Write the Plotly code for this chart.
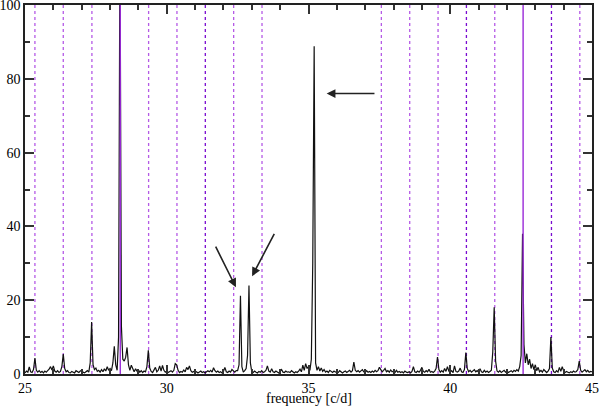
import plotly.graph_objects as go

# amplitude spectrum, sampled every 0.05 c/d from 25.00 to 45.00
freq_start = 25.0
freq_step = 0.05
amp = [
    # 25
    0.3, 0.8, 0.5, 1.9, 0.6, 0.4, 1.2, 4.3, 1.0, 0.5, 0.9, 0.4, 0.7, 0.3, 0.8, 0.5, 0.9, 1.3, 2.0, 1.1,
    # 26
    2.2, 0.8, 0.5, 0.9, 0.4, 0.7, 2.0, 5.4, 1.5, 0.6, 0.9, 0.4, 0.3, 0.7, 0.5, 0.3, 0.9, 0.6, 0.4, 0.8,
    # 27
    1.0, 0.5, 0.3, 0.6, 0.9, 0.5, 3.0, 14.1, 2.5, 1.2, 1.6, 0.7, 1.0, 0.5, 1.2, 0.6, 1.4, 0.8, 2.0, 1.0,
    # 28
    1.5, 0.9, 3.0, 7.5, 2.5, 1.0, 10.0, 120.0, 13.0, 4.0, 3.5, 4.5, 7.2, 2.5, 1.0, 2.4, 1.2, 0.6, 1.4, 0.8,
    # 29
    1.1, 0.5, 0.9, 0.4, 0.8, 0.6, 2.0, 6.4, 1.6, 0.7, 0.4, 1.2, 1.8, 0.6, 1.0, 2.2, 0.8, 2.3, 1.0, 0.5,
    # 30
    0.8, 0.4, 0.6, 0.9, 0.5, 1.0, 2.8, 2.5, 1.0, 0.4, 0.7, 0.5, 1.1, 0.6, 1.8, 1.2, 2.2, 0.9, 0.5, 0.7,
    # 31
    0.4, 0.6, 0.3, 0.5, 0.8, 0.4, 0.6, 0.3, 0.5, 0.9, 0.6, 1.0, 0.5, 1.7, 0.9, 0.5, 0.8, 0.4, 0.6, 0.3,
    # 32
    0.7, 1.8, 0.6, 0.4, 0.8, 0.5, 1.2, 0.8, 0.5, 0.9, 0.9, 2.5, 21.2, 2.0, 0.5, 0.9, 1.5, 5.0, 24.0, 3.0,
    # 33
    0.6, 0.4, 0.8, 0.5, 0.3, 0.7, 0.5, 0.9, 0.4, 0.6, 1.0, 2.2, 0.8, 0.5, 1.4, 0.6, 0.4, 0.8, 0.5, 0.3,
    # 34
    0.7, 1.2, 0.5, 0.4, 0.8, 0.5, 0.6, 0.4, 0.9, 0.5, 0.3, 0.6, 0.4, 0.8, 1.3, 0.6, 2.4, 1.0, 2.8, 1.5,
    # 35
    2.0, 1.0, 4.0, 30.0, 88.8, 3.0, 1.0, 2.0, 0.8, 1.6, 0.7, 1.2, 0.5, 0.8, 0.4, 1.0, 0.6, 0.4, 0.8, 0.5,
    # 36
    0.7, 0.4, 0.9, 0.5, 0.3, 0.6, 0.8, 0.4, 0.7, 1.0, 0.5, 0.9, 3.2, 1.0, 0.6, 0.9, 0.5, 0.8, 1.2, 0.6,
    # 37
    0.4, 0.9, 0.5, 0.7, 0.4, 0.8, 0.5, 1.0, 0.6, 0.9, 1.8, 1.2, 0.6, 1.0, 1.5, 0.6, 0.9, 0.5, 1.1, 0.6,
    # 38
    0.8, 0.4, 1.0, 0.5, 0.7, 0.4, 0.6, 0.3, 0.8, 0.5, 0.4, 0.6, 0.3, 0.7, 2.0, 0.6, 0.4, 0.8, 0.5, 1.0,
    # 39
    1.8, 0.7, 0.5, 0.9, 0.6, 1.3, 0.5, 0.7, 0.4, 0.8, 1.5, 4.6, 1.2, 0.5, 0.9, 0.5, 1.5, 0.7, 2.0, 0.8,
    # 40
    0.5, 0.9, 0.4, 2.2, 0.7, 0.5, 0.8, 1.6, 0.6, 0.4, 1.2, 5.8, 1.5, 0.6, 1.0, 0.5, 0.8, 1.2, 0.6, 0.9,
    # 41
    0.5, 1.4, 0.6, 0.4, 1.0, 0.5, 0.8, 0.4, 0.7, 1.0, 6.0, 18.1, 3.5, 0.8, 0.5, 0.9, 0.4, 0.7, 1.0, 0.5,
    # 42
    0.8, 0.4, 0.6, 0.9, 0.5, 1.0, 0.7, 1.2, 0.8, 2.0, 5.0, 38.0, 8.0, 3.0, 5.5, 2.5, 4.0, 1.5, 2.8, 1.2,
    # 43
    2.5, 0.9, 1.8, 0.6, 1.0, 0.5, 1.2, 0.7, 0.4, 0.8, 1.5, 10.0, 1.6, 0.6, 0.4, 0.9, 0.5, 1.8, 0.7, 2.0,
    # 44
    0.8, 0.4, 0.7, 0.5, 0.3, 0.6, 0.4, 0.8, 0.5, 0.7, 1.2, 3.5, 1.0, 0.5, 0.8, 1.2, 0.6, 1.0, 0.5, 0.7,
    # 45
    0.6,
]
freq = [round(freq_start + i * freq_step, 2) for i in range(len(amp))]

# main frequencies (solid) and their 1 c/d aliases (dotted)
main_freqs = [28.36, 42.57]
alias_light = [25.35, 26.35, 27.36, 29.36, 30.36, 32.36, 33.36,
               37.57, 38.57, 39.57, 41.57, 44.57]
alias_dark = [31.36, 40.57, 43.57]

fig = go.Figure()
fig.add_trace(go.Scatter(x=freq, y=amp, mode="lines",
                         line=dict(color="#111111", width=1.2),
                         showlegend=False))

for f in alias_light:
    fig.add_vline(x=f, line=dict(color="#b55ae6", width=1.3, dash="dot"), layer="below")
for f in alias_dark:
    fig.add_vline(x=f, line=dict(color="#7a0cd0", width=1.3, dash="dot"), layer="below")
for f in main_freqs:
    fig.add_vline(x=f, line=dict(color="#9a2ad8", width=1.4), layer="above")

# arrows pointing at the peaks
arrows = [
    (35.64, 76.0, 37.38, 76.0),
    (32.44, 23.5, 31.70, 34.9),
    (33.01, 26.5, 33.82, 38.4),
]
for x, y, ax, ay in arrows:
    fig.add_annotation(x=x, y=y, ax=ax, ay=ay, xref="x", yref="y",
                       axref="x", ayref="y", text="", showarrow=True,
                       arrowhead=2, arrowsize=1.1, arrowwidth=1.6,
                       arrowcolor="#222222")

# x axis title placed by hand so it sits close to the tick labels
fig.add_annotation(text="frequency [c/d]", xref="paper", yref="paper",
                   x=0.5, y=0, yshift=-24, yanchor="middle", showarrow=False,
                   font=dict(family="Liberation Serif", size=14, color="black"))

axis_common = dict(showline=True, linecolor="#222222", linewidth=1.5,
                   mirror="allticks", ticks="inside", tickcolor="#333333",
                   showgrid=False, zeroline=False, automargin=False,
                   ticklabeloverflow="allow",
                   tickfont=dict(family="Liberation Serif", size=14, color="black"))

fig.update_xaxes(range=[25, 45], tickvals=[25, 30, 35, 40, 45], ticklen=9,
                 tickwidth=1.5,
                 minor=dict(ticks="inside", dtick=1, ticklen=5, tickcolor="#333333"),
                 **axis_common)
fig.update_yaxes(range=[0, 100], tickvals=[0, 20, 40, 60, 80, 100], ticklen=9,
                 tickwidth=1.5,
                 minor=dict(ticks="inside", dtick=10, ticklen=5, tickcolor="#333333"),
                 **axis_common)

fig.update_layout(width=599, height=406,
                  margin=dict(l=25, r=7, t=5, b=32),
                  plot_bgcolor="white", paper_bgcolor="white",
                  font=dict(family="Liberation Serif"))

fig.write_html("out.html", config={"displayModeBar": False},
               post_script="document.body.style.margin='0';")
